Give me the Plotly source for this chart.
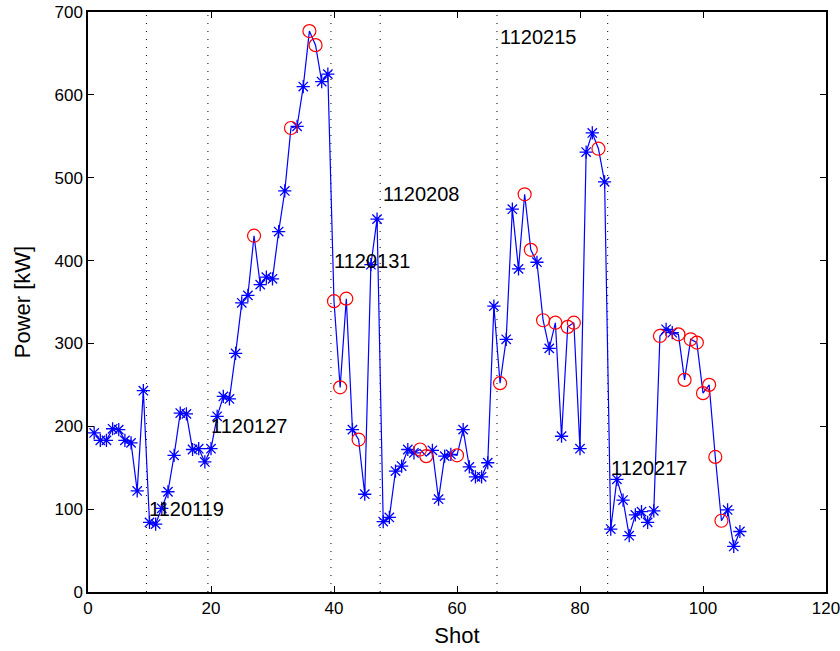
import plotly.graph_objects as go

shots = list(range(1, 107))
power = [192, 183, 183, 197, 196, 183, 180, 122, 243, 84,
         82, 101, 121, 165, 216, 215, 172, 173, 157, 173,
         212, 236, 233, 288, 349, 358, 430, 371, 380, 378,
         435, 484, 560, 562, 610, 677, 660, 616, 625, 351,
         247, 354, 196, 184, 118, 395, 450, 85, 90, 146,
         152, 172, 168, 172, 164, 171, 112, 164, 166, 165,
         196, 151, 139, 139, 156, 345, 252, 305, 462, 390,
         480, 413, 398, 328, 294, 325, 188, 320, 325, 173,
         531, 554, 535, 495, 76, 136, 111, 68, 93, 97,
         84, 98, 309, 317, 313, 311, 256, 305, 301, 240,
         250, 163, 86, 99, 55, 73]
flagged = [27, 33, 36, 37, 40, 41, 42, 44, 54, 55, 60, 67, 71, 72, 74, 76,
           78, 79, 83, 93, 96, 97, 98, 99, 100, 101, 102, 103]

boundaries = [9.5, 19.5, 39.5, 47.5, 66.5, 84.5]
dates = ["1120119", "1120127", "1120131", "1120208", "1120215", "1120217"]
date_label_y = [100, 200, 400, 480, 670, 150]

x_ticks = [0, 20, 40, 60, 80, 100, 120]
y_ticks = [0, 100, 200, 300, 400, 500, 600, 700]

good_x = [s for s in shots if s not in flagged]
good_y = [power[s - 1] for s in good_x]
bad_x = [s for s in shots if s in flagged]
bad_y = [power[s - 1] for s in bad_x]

FONT = "Liberation Sans, Arial"

fig = go.Figure()

for b in boundaries:
    fig.add_trace(go.Scatter(x=[b, b], y=[0, 700], mode="lines",
                             line=dict(color="black", width=1, dash="1px,7px"),
                             hoverinfo="skip", showlegend=False))

fig.add_trace(go.Scatter(x=shots, y=power, mode="lines",
                         line=dict(color="#0000ff", width=1.2),
                         showlegend=False))
fig.add_trace(go.Scatter(x=good_x, y=good_y, mode="markers",
                         marker=dict(symbol="asterisk-open", size=11, color="#0000ff",
                                     line=dict(color="#0000ff", width=1.3)),
                         showlegend=False))
fig.add_trace(go.Scatter(x=bad_x, y=bad_y, mode="markers",
                         marker=dict(symbol="circle-open", size=13,
                                     color="#ff0000",
                                     line=dict(color="#ff0000", width=1.2)),
                         showlegend=False))

for b, d, ly in zip(boundaries, dates, date_label_y):
    fig.add_annotation(x=b, y=ly, text=d, showarrow=False,
                       xanchor="left", yanchor="middle", xshift=1,
                       font=dict(family=FONT, size=20, color="black"))

axis_common = dict(showgrid=False, zeroline=False, showline=True,
                   linecolor="black", linewidth=1.5, mirror="ticks",
                   ticks="inside", ticklen=6, tickcolor="black", tickwidth=1,
                   automargin=False, ticklabeloverflow="allow",
                   tickfont=dict(family=FONT, size=17, color="black"))

fig.update_xaxes(range=[0, 120], tickvals=x_ticks,
                 title=dict(text="Shot", font=dict(family=FONT, size=22, color="black"),
                            standoff=10),
                 **axis_common)
fig.update_yaxes(range=[0, 700], tickvals=y_ticks,
                 title=dict(text="Power [kW]", font=dict(family=FONT, size=22, color="black"),
                            standoff=18),
                 **axis_common)

fig.update_layout(width=840, height=651,
                  margin=dict(l=88, r=14, t=12, b=59),
                  plot_bgcolor="white", paper_bgcolor="white",
                  showlegend=False)

# remove the browser's default 8px body margin so the figure fills the window
fig.write_html("out.html",
               config={"displayModeBar": False},
               post_script="document.body.style.margin='0';document.body.style.overflow='hidden';")
